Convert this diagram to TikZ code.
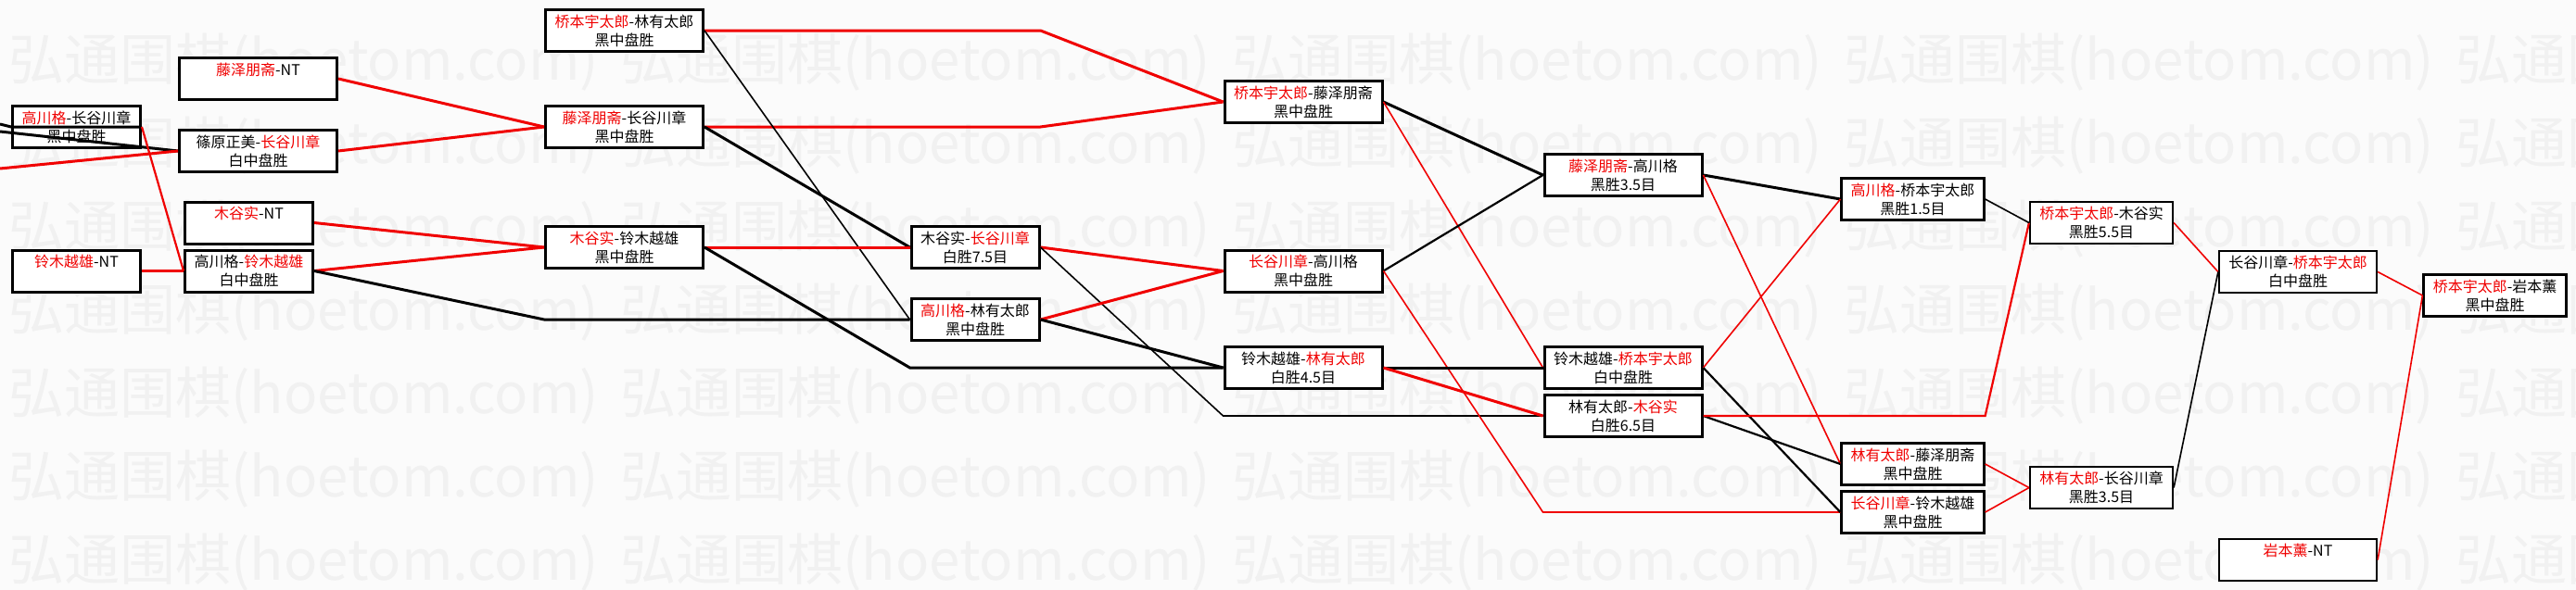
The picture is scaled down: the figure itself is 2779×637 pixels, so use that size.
\documentclass[tikz,border=0pt]{standalone}
\usepackage{fontspec}
\setmainfont{Noto Sans CJK SC}
\definecolor{BrkRed}{HTML}{F00000}
\definecolor{WmGray}{HTML}{F1F1F1}
\definecolor{WmBack}{HTML}{FBFBFB}
\newcommand{\winner}[1]{\textcolor{BrkRed}{#1}}
\begin{document}
\begin{tikzpicture}[x=0.5pt,y=-0.5pt,
  game/.style={draw,fill=white,line width=1.5pt,minimum height=22.5pt,inner sep=0pt,align=center,font=\fontsize{8}{10}\selectfont},
  wide/.style={minimum width=85pt},
  narrow/.style={minimum width=69pt},
  middling/.style={minimum width=77pt},
  slim/.style={line width=1.1pt},
  wmark/.style={anchor=west,inner sep=0pt,text=WmGray,font=\fontsize{30}{30}\selectfont},
  redline/.style={draw=BrkRed,line width=1.5pt},
  blkline/.style={draw=black,line width=1.5pt},
  fine/.style={line width=0.8pt},
  half/.style={line width=1.1pt}]
  \clip (0,0) rectangle (2779,637);
  \fill[WmBack] (0,0) rectangle (2779,637);
  \foreach \j in {0,...,6}
    \foreach \k in {0,...,4}
      \node[wmark] (wm-\j-\k) at ({9+660*\k},{67+90*\j}) {弘通围棋(hoetom.com)};

  \node[game,narrow] (gaoHase) at (82.5,137) {\winner{高川格}-长谷川章\\黑中盘胜};
  \node[game,narrow] (suzuNT) at (82.5,292.5) {\winner{铃木越雄}-NT\\\phantom{黑中盘胜}};
  \node[game,wide] (fujiNT) at (278.5,85) {\winner{藤泽朋斋}-NT\\\phantom{黑中盘胜}};
  \node[game,wide] (shinoHase) at (278.5,163) {篠原正美-\winner{长谷川章}\\白中盘胜};
  \node[game,narrow] (kitaNT) at (268.5,240.5) {\winner{木谷实}-NT\\\phantom{黑中盘胜}};
  \node[game,narrow] (gaoSuzu) at (268.5,292.5) {高川格-\winner{铃木越雄}\\白中盘胜};
  \node[game,wide] (qiaoLin) at (673.5,33) {\winner{桥本宇太郎}-林有太郎\\黑中盘胜};
  \node[game,wide] (fujiHase) at (673.5,137) {\winner{藤泽朋斋}-长谷川章\\黑中盘胜};
  \node[game,wide] (kitaSuzu) at (673.5,267) {\winner{木谷实}-铃木越雄\\黑中盘胜};
  \node[game,narrow] (kitaHase) at (1052,267) {木谷实-\winner{长谷川章}\\白胜7.5目};
  \node[game,narrow] (gaoLin) at (1052,345) {\winner{高川格}-林有太郎\\黑中盘胜};
  \node[game,wide] (qiaoFuji) at (1406,110) {\winner{桥本宇太郎}-藤泽朋斋\\黑中盘胜};
  \node[game,wide] (haseGao) at (1406,292.5) {\winner{长谷川章}-高川格\\黑中盘胜};
  \node[game,wide] (suzuLin) at (1406,397) {铃木越雄-\winner{林有太郎}\\白胜4.5目};
  \node[game,wide] (fujiGao) at (1751,189) {\winner{藤泽朋斋}-高川格\\黑胜3.5目};
  \node[game,wide] (suzuQiao) at (1751,397) {铃木越雄-\winner{桥本宇太郎}\\白中盘胜};
  \node[game,wide] (linKita) at (1751,449) {林有太郎-\winner{木谷实}\\白胜6.5目};
  \node[game,middling,slim] (gaoQiao) at (2063.5,215) {\winner{高川格}-桥本宇太郎\\黑胜1.5目};
  \node[game,middling,slim] (linFuji) at (2063.5,501) {\winner{林有太郎}-藤泽朋斋\\黑中盘胜};
  \node[game,middling,slim] (haseSuzu) at (2063.5,553) {\winner{长谷川章}-铃木越雄\\黑中盘胜};
  \node[game,middling,slim] (qiaoKita) at (2267,240.5) {\winner{桥本宇太郎}-木谷实\\黑胜5.5目};
  \node[game,middling,slim] (linHase) at (2267,526.5) {\winner{林有太郎}-长谷川章\\黑胜3.5目};
  \node[game,wide,slim] (haseQiao) at (2479,293.5) {长谷川章-\winner{桥本宇太郎}\\白中盘胜};
  \node[game,middling,slim] (qiaoIwa) at (2691.5,319) {\winner{桥本宇太郎}-岩本薰\\黑中盘胜};
  \node[game,wide,slim] (iwaNT) at (2479,604.5) {\winner{岩本薰}-NT\\\phantom{黑中盘胜}};

  \coordinate (offA) at (0,134);
  \coordinate (offB) at (0,142);
  \coordinate (offC) at (0,182);

  \draw[blkline] (offA) -- (gaoHase.west) -- (gaoHase.east);
  \draw[blkline] (offB) -- (shinoHase.west);
  \draw[redline] (offC) -- (shinoHase.west);
  \draw[redline,half] (gaoHase.east) -- (gaoSuzu.west);
  \draw[redline] (suzuNT.east) -- (gaoSuzu.west);
  \draw[redline] (fujiNT.east) -- (fujiHase.west);
  \draw[redline] (shinoHase.east) -- (fujiHase.west);
  \draw[redline] (kitaNT.east) -- (kitaSuzu.west);
  \draw[redline] (gaoSuzu.east) -- (kitaSuzu.west);
  \draw[blkline] (gaoSuzu.east) -- (fujiHase.west |- gaoLin.west) -- (gaoLin.west);
  \draw[redline] (qiaoLin.east) -- (kitaHase.east |- qiaoLin.east) -- (qiaoFuji.west);
  \draw[redline] (fujiHase.east) -- (kitaHase.east |- fujiHase.east) -- (qiaoFuji.west);
  \draw[blkline,fine] (qiaoLin.east) -- (gaoLin.west);
  \draw[blkline] (fujiHase.east) -- (kitaHase.west);
  \draw[redline] (kitaSuzu.east) -- (kitaHase.west);
  \draw[blkline] (kitaSuzu.east) -- (kitaHase.west |- suzuLin.west) -- (suzuLin.west);
  \draw[redline] (kitaHase.east) -- (haseGao.west);
  \draw[blkline,fine] (kitaHase.east) -- (haseGao.west |- linKita.west) -- (linKita.west);
  \draw[redline] (gaoLin.east) -- (haseGao.west);
  \draw[blkline] (gaoLin.east) -- (suzuLin.west);
  \draw[blkline] (qiaoFuji.east) -- (fujiGao.west);
  \draw[redline,fine] (qiaoFuji.east) -- (suzuQiao.west);
  \draw[blkline,half] (haseGao.east) -- (fujiGao.west);
  \draw[redline,fine] (haseGao.east) -- (linKita.west |- haseSuzu.west) -- (haseSuzu.west);
  \draw[blkline] (suzuLin.east) -- (suzuQiao.west);
  \draw[redline] (suzuLin.east) -- (linKita.west);
  \draw[blkline] (fujiGao.east) -- (gaoQiao.west);
  \draw[redline,fine] (fujiGao.east) -- (linFuji.west);
  \draw[redline,fine] (suzuQiao.east) -- (gaoQiao.west);
  \draw[blkline,half] (suzuQiao.east) -- (haseSuzu.west);
  \draw[blkline,half] (linKita.east) -- (linFuji.west);
  \draw[redline,half] (linKita.east) -- (haseSuzu.east |- linKita.east) -- (qiaoKita.west);
  \draw[blkline,fine] (gaoQiao.east) -- (qiaoKita.west);
  \draw[redline,fine] (linFuji.east) -- (linHase.west);
  \draw[redline,fine] (haseSuzu.east) -- (linHase.west);
  \draw[redline,fine] (qiaoKita.east) -- (haseQiao.west);
  \draw[blkline,fine] (linHase.east) -- (haseQiao.west);
  \draw[redline,fine] (haseQiao.east) -- (qiaoIwa.west);
  \draw[redline,fine] (iwaNT.east) -- (qiaoIwa.west);
\end{tikzpicture}
\end{document}
